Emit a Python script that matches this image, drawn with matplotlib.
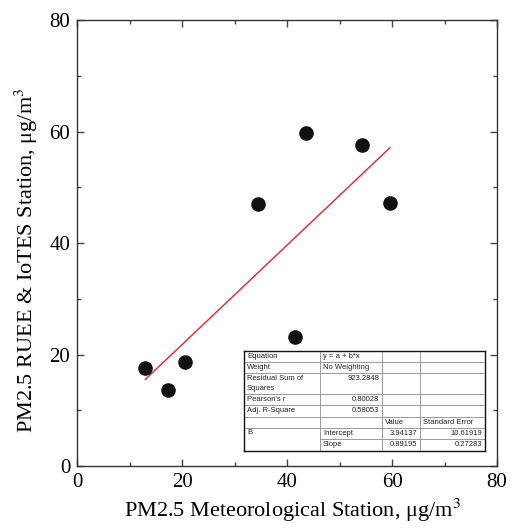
import matplotlib
matplotlib.use('Agg')
import matplotlib.pyplot as plt
import numpy as np

met_station = [13.0, 17.3, 20.6, 34.5, 41.6, 43.7, 54.3, 59.6]
ruee_iotes = [17.5, 13.7, 18.6, 47.0, 23.2, 59.7, 57.6, 47.1]

# linear fit reported in the table
intercept = 3.94137
slope = 0.89195
intercept_err = 10.61919
slope_err = 0.27283
rss = 923.2848
pearson_r = 0.80028
adj_r2 = 0.58053

plt.rcParams['font.family'] = 'Liberation Serif'
plt.rcParams['mathtext.fontset'] = 'stix'

fig = plt.figure(figsize=(5.14, 5.31), dpi=100)
ax = fig.add_axes([0.150, 0.1224, 0.817, 0.8399])

ax.scatter(met_station, ruee_iotes, s=90, color='#111111', zorder=3)
xfit = np.array([min(met_station), max(met_station)])
ax.plot(xfit, intercept + slope * xfit, color='#e8202a', linewidth=1.0, zorder=2)

ax.set_xlim(0, 80)
ax.set_ylim(0, 80)
ax.set_xticks([0, 20, 40, 60, 80])
ax.set_yticks([0, 20, 40, 60, 80])
ax.set_xticks([10, 30, 50, 70], minor=True)
ax.set_yticks([10, 30, 50, 70], minor=True)
ax.tick_params(which='both', direction='in', top=True, right=True, labelsize=15,
               color='#444444')
ax.tick_params(which='major', length=5, width=1)
ax.tick_params(which='minor', length=3, width=1)
ax.tick_params(axis='x', pad=5)
ax.tick_params(axis='y', pad=5)
for sp in ax.spines.values():
    sp.set_color('#333333')
    sp.set_linewidth(1.0)

ax.set_xlabel(r'PM2.5 Meteorological Station, μg/m$^3$', fontsize=16)
ax.set_ylabel(r'PM2.5 RUEE & IoTES Station, μg/m$^3$', fontsize=16)
ax.xaxis.set_label_coords(0.512, -0.068)
ax.yaxis.set_label_coords(-0.088, 0.462)

# fit table drawn as an inset (units: pixels inside the table)
tb = fig.add_axes([244 / 514, 80 / 531, 241 / 514, 100 / 531])
tb.set_xlim(0, 241)
tb.set_ylim(100, 0)
tb.set_xticks([])
tb.set_yticks([])
for sp in tb.spines.values():
    sp.set_color('#111111')
    sp.set_linewidth(1.0)

cols = [0, 76, 138, 176, 241]
rows = [0, 11, 22, 43, 54, 66, 77, 88, 100]
grid = '#9a9a9a'
for c in cols[1:-1]:
    tb.plot([c, c], [0, 100], color=grid, linewidth=0.7)
for r in rows[1:-2]:
    tb.plot([0, 241], [r, r], color=grid, linewidth=0.7)
tb.plot([76, 241], [88, 88], color=grid, linewidth=0.7)

tkw = dict(fontsize=5.5, family='Liberation Sans', color='#222222', va='center')

def cell_left(col, y, s):
    tb.text(cols[col] + 3, y, s, ha='left', **tkw)

def cell_right(col, y, s):
    tb.text(cols[col + 1] - 3, y, s, ha='right', **tkw)

cell_left(0, 5.5, 'Equation')
cell_left(1, 5.5, 'y = a + b*x')
cell_left(0, 16.5, 'Weight')
cell_left(1, 16.5, 'No Weighting')
cell_left(0, 27.5, 'Residual Sum of')
cell_left(0, 37.5, 'Squares')
cell_right(1, 27.5, f'{rss:.4f}')
cell_left(0, 48.5, "Pearson's r")
cell_right(1, 48.5, f'{pearson_r:.5f}')
cell_left(0, 60, 'Adj. R-Square')
cell_right(1, 60, f'{adj_r2:.5f}')
cell_left(2, 71.5, 'Value')
cell_left(3, 71.5, 'Standard Error')
cell_left(0, 82, 'B')
cell_left(1, 82.5, 'Intercept')
cell_right(2, 82.5, f'{intercept:.5f}')
cell_right(3, 82.5, f'{intercept_err:.5f}')
cell_left(1, 94, 'Slope')
cell_right(2, 94, f'{slope:.5f}')
cell_right(3, 94, f'{slope_err:.5f}')

plt.savefig('out.png', dpi=100)
plt.close()
